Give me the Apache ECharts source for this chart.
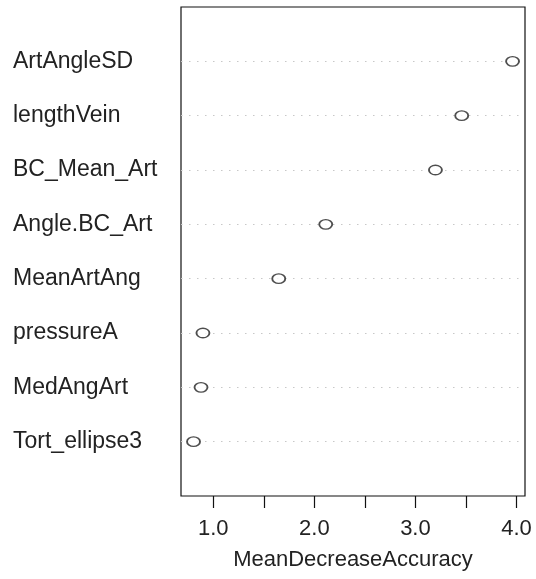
<!DOCTYPE html>
<html>
<head>
<meta charset="utf-8">
<script src="https://cdn.jsdelivr.net/npm/echarts@6/dist/echarts.min.js"></script>
<style>
html,body{margin:0;padding:0;background:#fff;}
#c{width:536px;height:579px;}
</style>
</head>
<body>
<div id="c"></div>
<script>
// Variables, listed top to bottom as in the dot chart
const variables = ['ArtAngleSD','lengthVein','BC_Mean_Art','Angle.BC_Art','MeanArtAng','pressureA','MedAngArt','Tort_ellipse3'];
// MeanDecreaseAccuracy values
const accuracy = [3.961, 3.458, 3.198, 2.113, 1.648, 0.898, 0.879, 0.805];
// x axis ticks and labels
const xTicks = [1.0, 1.5, 2.0, 2.5, 3.0, 3.5, 4.0];
const xLabels = [1.0, 2.0, 3.0, 4.0];
const xTitle = 'MeanDecreaseAccuracy';

const n = variables.length;
const points = variables.map((v, i) => [accuracy[i], n - i]);

const chart = echarts.init(document.getElementById('c'), null, {renderer: 'canvas'});
const font = '"Liberation Sans", Arial, sans-serif';
chart.setOption({
  animation: false,
  backgroundColor: '#fff',
  grid: {
    left: 181, right: 11, top: 7, bottom: 83,
    show: true, borderColor: '#111', borderWidth: 1.2, backgroundColor: 'transparent'
  },
  xAxis: {
    type: 'value',
    min: 0.681, max: 4.084,
    axisLine: {show: false},
    splitLine: {show: false},
    axisTick: {show: true, length: 12, customValues: xTicks, lineStyle: {color: '#111', width: 1.2}},
    axisLabel: {
      customValues: xLabels,
      formatter: v => Number(v).toFixed(1),
      margin: 22, fontSize: 22, color: '#222', fontFamily: font
    },
    name: xTitle,
    nameLocation: 'middle',
    nameGap: 53,
    nameTextStyle: {fontSize: 22, color: '#222', fontFamily: font}
  },
  yAxis: {
    type: 'value',
    min: 0, max: n + 1, interval: 1,
    axisLine: {show: false},
    axisTick: {show: false},
    axisLabel: {
      formatter: v => (v >= 1 && v <= n) ? variables[n - v] : '',
      align: 'left', margin: 168, fontSize: 23, color: '#222', fontFamily: font
    },
    splitLine: {
      show: true, showMinLine: false, showMaxLine: false,
      lineStyle: {color: '#c8c8c8', width: 1.2, type: [1.5, 6.5]}
    }
  },
  series: [{
    type: 'scatter',
    data: points,
    symbol: 'circle',
    symbolSize: [13, 9.5],
    itemStyle: {color: '#fff', borderColor: '#222', borderWidth: 1.6}
  }]
});
</script>
</body>
</html>
